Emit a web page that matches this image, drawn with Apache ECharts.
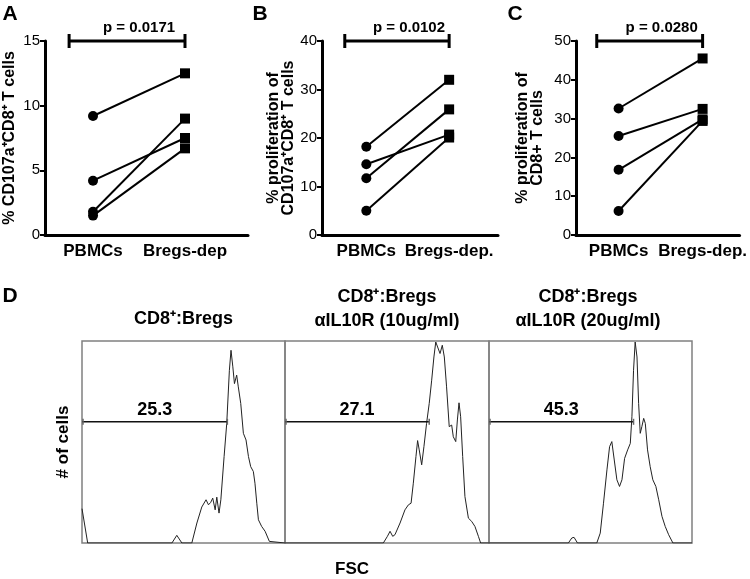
<!DOCTYPE html>
<html><head><meta charset="utf-8">
<script src="https://cdn.jsdelivr.net/npm/echarts@6/dist/echarts.min.js"></script>
<style>html,body{margin:0;padding:0;background:#fff}#c{width:750px;height:579px}</style>
</head><body><div id="c"></div>
<script>
const FONT = "'Liberation Sans', Arial, Helvetica, sans-serif";

// ---- Panel A ----
const catsA = ['PBMCs', 'Bregs-dep'];
const pbmcA = [9.2, 4.2, 1.8, 1.5];
const bregA = [12.5, 7.5, 9.0, 6.7];
const yTicksA = [0, 5, 10, 15];
const pA = 'p = 0.0171';
// ---- Panel B ----
const catsB = ['PBMCs', 'Bregs-dep.'];
const pbmcB = [18.2, 14.6, 11.7, 5.0];
const bregB = [32.0, 20.7, 25.9, 20.1];
const yTicksB = [0, 10, 20, 30, 40];
const pB = 'p = 0.0102';
// ---- Panel C ----
const catsC = ['PBMCs', 'Bregs-dep.'];
const pbmcC = [32.6, 25.5, 16.8, 6.2];
const bregC = [45.5, 32.5, 29.8, 29.4];
const yTicksC = [0, 10, 20, 30, 40, 50];
const pC = 'p = 0.0280';
// bracket span in category units
const bracketFrom = -0.26, bracketTo = 1;

// ---- Panel D histograms (FSC channel, relative count) ----
const histD1 = [[0,17],[5,16.4],[28,0],[443,0],[467,3.8],[492,0],[541,0],[566,9.9],[590,17.8],[611,21.4],[623,18.9],[634,20.1],[644,22.2],[656,16.4],[664,22.7],[675,14.8],[684,21.4],[700,42.8],[713,59.2],[726,85.5],[734,95.4],[743,87.2],[751,78.9],[762,83.1],[770,77.3],[782,69.1],[795,54.3],[808,51.0],[820,42.8],[831,37.8],[844,35.4],[852,29.6],[861,19.7],[869,11.5],[885,8.2],[902,5.8],[923,0.8],[930,0],[1000,0]];
const histD2 = [[0,0],[482,0],[502,3.3],[515,5.8],[528,3.3],[539,4.1],[564,9.9],[588,16.4],[605,18.9],[618,19.7],[629,29.6],[642,42.8],[650,50.7],[658,46.1],[670,38.7],[681,47.7],[694,59.2],[707,69.1],[719,80.6],[730,92.1],[739,99.5],[748,98.7],[760,93.8],[771,97.9],[781,92.1],[792,77.3],[805,57.6],[817,58.4],[825,52.6],[837,50.2],[845,60.9],[853,69.4],[861,62.5],[871,42.8],[882,23.0],[899,12.3],[915,10.7],[931,8.2],[948,3.3],[959,0],[1000,0]];
const histD3 = [[0,0],[391,0],[408,2.5],[419,2.8],[436,0],[531,0],[548,4.9],[564,19.7],[581,36.2],[594,47.7],[605,50.2],[617,41.1],[630,31.3],[643,28.0],[655,31.3],[668,41.9],[683,46.1],[696,49.3],[704,62.5],[712,85.5],[720,99.5],[729,92.1],[737,69.1],[745,54.3],[753,57.6],[762,61.7],[770,59.2],[781,46.1],[794,37.8],[807,31.3],[822,28.0],[836,21.4],[852,13.2],[868,8.2],[885,4.1],[906,0],[1000,0]];
const gateLevel = [60, 60, 60];
const gateEnd = [716, 707, 712];
const gateLabels = ['25.3', '27.1', '45.3'];
const dTitles = [['CD8\u207A:Bregs'], ['CD8\u207A:Bregs', '\u03B1IL10R (10ug/ml)'], ['CD8\u207A:Bregs', '\u03B1IL10R (20ug/ml)']];

const chart = echarts.init(document.getElementById('c'), null, {renderer: 'canvas'});

const grids = [
  {left: 45, top: 41, width: 203, height: 194},
  {left: 322, top: 41, width: 176, height: 194},
  {left: 576, top: 41, width: 170, height: 194},
  {left: 82, top: 341, width: 203, height: 202, show: true, borderColor: '#808080', borderWidth: 1.5},
  {left: 285, top: 341, width: 204, height: 202, show: true, borderColor: '#808080', borderWidth: 1.5},
  {left: 489, top: 341, width: 203, height: 202, show: true, borderColor: '#808080', borderWidth: 1.5}
];

function catX(g, cats, min, max) {
  return {
    type: 'value', gridIndex: g, min: min, max: max,
    axisLine: {show: true, onZero: false, lineStyle: {color: '#000', width: 3}},
    axisTick: {show: false}, splitLine: {show: false},
    axisLabel: {customValues: [0, 1], formatter: v => cats[Math.round(v)] || '',
      color: '#000', fontFamily: FONT, fontWeight: 'bold', fontSize: 17, margin: 8}
  };
}
function valY(g, ticks, name, gap) {
  return {
    type: 'value', gridIndex: g, min: ticks[0], max: ticks[ticks.length - 1], interval: ticks[1] - ticks[0],
    axisLine: {show: true, onZero: false, lineStyle: {color: '#000', width: 3}},
    axisTick: {show: true, length: 5, lineStyle: {color: '#000', width: 2}},
    splitLine: {show: false},
    axisLabel: {color: '#000', fontFamily: FONT, fontSize: 15, margin: 5},
    name: name, nameLocation: 'middle', nameGap: gap, nameRotate: 90,
    nameTextStyle: {color: '#000', fontFamily: FONT, fontWeight: 'bold', fontSize: 16, lineHeight: 15}
  };
}
const xAxes = [
  catX(0, catsA, -0.522, 1.685),
  catX(1, catsB, -0.535, 1.59),
  catX(2, catsC, -0.507, 1.44)
];
const yAxes = [
  valY(0, yTicksA, '% CD107a\u207ACD8\u207A T cells', 28),
  valY(1, yTicksB, '% proliferation of\nCD107a\u207ACD8\u207A T cells', 25),
  valY(2, yTicksC, '% proliferation of\nCD8+ T cells', 31)
];
for (let g = 3; g < 6; g++) {
  xAxes.push({type: 'value', gridIndex: g, min: 0, max: 1000, show: false});
  yAxes.push({type: 'value', gridIndex: g, min: 0, max: 100, show: false});
}

const series = [];
function pairs(g, p, b) {
  for (let i = 0; i < p.length; i++) {
    series.push({
      type: 'line', xAxisIndex: g, yAxisIndex: g, animation: false, silent: true,
      data: [{value: [0, p[i]], symbol: 'circle'}, {value: [1, b[i]], symbol: 'rect'}],
      symbolSize: 10, showSymbol: true,
      lineStyle: {color: '#000', width: 2}, itemStyle: {color: '#000'}
    });
  }
}
function bracket(g, ymax, label) {
  series.push({
    type: 'custom', xAxisIndex: g, yAxisIndex: g, silent: true, clip: false, animation: false, z: 5,
    data: [[bracketFrom, bracketTo, ymax]],
    renderItem(params, api) {
      const a = api.coord([api.value(0), api.value(2)]);
      const b = api.coord([api.value(1), api.value(2)]);
      const st = {stroke: '#000', lineWidth: 3};
      return {type: 'group', children: [
        {type: 'line', shape: {x1: a[0], y1: a[1], x2: b[0], y2: b[1]}, style: st},
        {type: 'line', shape: {x1: a[0], y1: a[1] - 7, x2: a[0], y2: a[1] + 7}, style: st},
        {type: 'line', shape: {x1: b[0], y1: b[1] - 7, x2: b[0], y2: b[1] + 7}, style: st},
        {type: 'text', x: (a[0] + b[0]) / 2 + 12, y: a[1] - 13,
          style: {text: label, font: 'bold 15px ' + FONT, fill: '#000', align: 'center', verticalAlign: 'middle'}}
      ]};
    }
  });
}
pairs(0, pbmcA, bregA); bracket(0, 15, pA);
pairs(1, pbmcB, bregB); bracket(1, 40, pB);
pairs(2, pbmcC, bregC); bracket(2, 50, pC);

[histD1, histD2, histD3].forEach((h, k) => {
  const g = 3 + k;
  series.push({
    type: 'line', xAxisIndex: g, yAxisIndex: g, data: h, showSymbol: false, symbol: 'none',
    animation: false, silent: true, lineStyle: {color: '#222', width: 1}
  });
  series.push({
    type: 'custom', xAxisIndex: g, yAxisIndex: g, silent: true, clip: false, animation: false, z: 6,
    data: [[0, gateEnd[k], gateLevel[k]]],
    renderItem(params, api) {
      const a = api.coord([api.value(0), api.value(2)]);
      const b = api.coord([api.value(1), api.value(2)]);
      return {type: 'group', children: [
        {type: 'line', shape: {x1: a[0], y1: a[1], x2: b[0], y2: b[1]}, style: {stroke: '#111', lineWidth: 1.5}},
        {type: 'line', shape: {x1: a[0] + 1, y1: a[1] - 3, x2: a[0] + 1, y2: a[1] + 3}, style: {stroke: '#666', lineWidth: 1.5}},
        {type: 'line', shape: {x1: b[0], y1: b[1] - 3, x2: b[0], y2: b[1] + 3}, style: {stroke: '#666', lineWidth: 1.5}},
        {type: 'text', x: (a[0] + b[0]) / 2, y: a[1] - 12,
          style: {text: gateLabels[k], font: 'bold 18px ' + FONT, fill: '#000', align: 'center', verticalAlign: 'middle'}}
      ]};
    }
  });
});

const graphics = [];
function txt(x, y, s, size, extra) {
  graphics.push(Object.assign({type: 'text', x: x, y: y,
    style: {text: s, font: 'bold ' + size + 'px ' + FONT, fill: '#000', align: 'center', verticalAlign: 'middle'}}, extra || {}));
}
txt(10, 14, 'A', 21); txt(260, 14, 'B', 21); txt(515, 14, 'C', 21); txt(10, 296, 'D', 21);
const boxCenters = [183.5, 387, 588];
dTitles.forEach((lines, k) => {
  if (lines.length === 1) txt(boxCenters[k], 319, lines[0], 18);
  else { txt(boxCenters[k], 297, lines[0], 18); txt(boxCenters[k], 321, lines[1], 18); }
});
txt(63, 442, '# of cells', 17, {rotation: Math.PI / 2});
txt(352, 569, 'FSC', 17);

chart.setOption({
  backgroundColor: '#fff',
  animation: false,
  grid: grids, xAxis: xAxes, yAxis: yAxes, series: series, graphic: graphics
});
</script></body></html>
